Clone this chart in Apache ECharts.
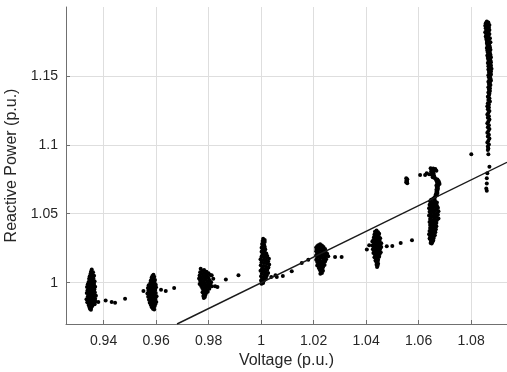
<!DOCTYPE html>
<html>
<head>
<meta charset="utf-8">
<script src="https://cdn.jsdelivr.net/npm/echarts@6/dist/echarts.min.js"></script>
<style>html,body{margin:0;padding:0;background:#fff}#c{width:507px;height:372px}</style>
</head>
<body>
<div id="c"></div>
<script>
// Axis ranges / names
const xName = 'Voltage (p.u.)';
const yName = 'Reactive Power (p.u.)';
const xRange = [0.9257, 1.0937];
const yRange = [0.97, 1.2];

// Fitted line endpoints [voltage, reactive power]
const fitLine = [[0.968, 0.97], [1.0937, 1.0873]];

// Measured clusters [voltage, reactive power]
const clusterA = [
[0.9355,1.0095],[0.9352,1.0080],[0.9360,1.0075],[0.9350,1.0062],[0.9358,1.0058],[0.9364,1.0050],[0.9347,1.0045],[0.9354,1.0040],[0.9361,1.0032],[0.9345,1.0028],[0.9352,1.0020],[0.9359,1.0015],[0.9366,1.0010],[0.9343,1.0005],[0.9350,1.0000],
[0.9357,0.9995],[0.9364,0.9990],[0.9340,0.9988],[0.9347,0.9982],[0.9354,0.9978],[0.9361,0.9975],[0.9368,0.9970],[0.9337,0.9968],[0.9344,0.9962],[0.9351,0.9958],[0.9358,0.9955],[0.9365,0.9950],[0.9339,0.9945],[0.9346,0.9940],[0.9353,0.9937],[0.9360,0.9932],[0.9367,0.9928],[0.9336,0.9925],[0.9343,0.9920],[0.9350,0.9915],[0.9357,0.9912],[0.9364,0.9908],[0.9371,0.9905],[0.9340,0.9900],[0.9347,0.9895],[0.9354,0.9892],[0.9361,0.9888],[0.9368,0.9884],[0.9335,0.9880],[0.9342,0.9876],[0.9349,0.9872],[0.9356,0.9868],[0.9363,0.9865],[0.9370,0.9862],[0.9338,0.9858],[0.9345,0.9854],[0.9352,0.9850],[0.9359,0.9846],[0.9366,0.9843],
[0.9343,0.9838],[0.9350,0.9833],[0.9357,0.9830],[0.9346,0.9824],[0.9353,0.9818],[0.9348,0.9810],[0.9352,0.9803],
[0.9380,0.9859],[0.9408,0.9871],[0.9431,0.9859],[0.9444,0.9854],[0.9482,0.9884]
];
const clusterB = [
[0.9590,1.0058],[0.9586,1.0048],[0.9593,1.0042],[0.9583,1.0035],[0.9590,1.0028],[0.9596,1.0020],[0.9580,1.0015],[0.9587,1.0008],[0.9594,1.0002],[0.9578,0.9998],
[0.9585,0.9994],[0.9592,0.9990],[0.9599,0.9985],[0.9572,0.9982],[0.9579,0.9978],[0.9586,0.9974],[0.9593,0.9970],[0.9600,0.9966],[0.9569,0.9962],[0.9576,0.9958],[0.9583,0.9954],[0.9590,0.9950],[0.9597,0.9946],[0.9571,0.9941],[0.9578,0.9937],[0.9585,0.9933],[0.9592,0.9929],[0.9599,0.9925],[0.9567,0.9921],[0.9574,0.9917],[0.9581,0.9913],[0.9588,0.9909],[0.9595,0.9905],[0.9602,0.9901],[0.9570,0.9897],[0.9577,0.9893],[0.9584,0.9889],[0.9591,0.9885],[0.9598,0.9881],[0.9573,0.9876],[0.9580,0.9872],[0.9587,0.9868],[0.9594,0.9864],[0.9601,0.9860],[0.9576,0.9855],[0.9583,0.9851],[0.9590,0.9847],[0.9597,0.9843],
[0.9580,0.9838],[0.9587,0.9832],[0.9594,0.9828],[0.9584,0.9822],[0.9591,0.9816],[0.9588,0.9810],[0.9593,0.9806],
[0.9552,0.9939],[0.9619,0.9949],[0.9637,0.9939],[0.9669,0.9961]
];
const clusterC = [
[0.9770,1.0100],[0.9783,1.0092],[0.9776,1.0085],[0.9792,1.0080],[0.9768,1.0075],[0.9785,1.0070],[0.9800,1.0068],[0.9775,1.0062],[0.9791,1.0058],[0.9806,1.0055],[0.9812,1.0053],[0.9766,1.0052],[0.9780,1.0048],[0.9795,1.0045],[0.9770,1.0040],[0.9786,1.0038],[0.9800,1.0034],[0.9818,1.0029],[0.9764,1.0030],[0.9776,1.0026],[0.9790,1.0022],[0.9804,1.0018],[0.9768,1.0014],[0.9782,1.0010],[0.9796,1.0006],[0.9810,1.0003],[0.9772,1.0000],[0.9786,0.9996],[0.9800,0.9992],[0.9766,0.9990],[0.9779,0.9986],[0.9793,0.9982],[0.9807,0.9979],[0.9772,0.9975],[0.9786,0.9971],[0.9799,0.9968],[0.9813,0.9973],[0.9825,0.9973],[0.9834,0.9968],[0.9776,0.9962],[0.9790,0.9958],[0.9803,0.9955],[0.9780,0.9948],[0.9793,0.9944],[0.9784,0.9938],[0.9797,0.9934],[0.9777,0.9930],[0.9790,0.9924],[0.9782,0.9918],[0.9788,0.9910],[0.9780,0.9904],[0.9786,0.9896],[0.9782,0.9888],
[0.9866,1.0022],[0.9914,1.0053]
];
const clusterD = [
[1.0008,1.0318],[1.0014,1.0310],[1.0006,1.0302],[1.0014,1.0295],[1.0008,1.0288],[1.0004,1.0280],[1.0012,1.0273],[1.0006,1.0266],[1.0014,1.0260],[1.0002,1.0254],[1.0010,1.0248],[1.0016,1.0242],[1.0006,1.0236],[1.0014,1.0230],[1.0002,1.0224],[1.0012,1.0218],[1.0020,1.0212],[1.0006,1.0206],[1.0016,1.0200],[1.0024,1.0194],[1.0002,1.0190],[1.0012,1.0185],[1.0022,1.0180],[1.0030,1.0174],[0.9998,1.0170],[1.0008,1.0165],[1.0018,1.0160],[1.0027,1.0154],[1.0002,1.0148],[1.0012,1.0143],[1.0022,1.0138],[1.0031,1.0132],[0.9999,1.0126],[1.0009,1.0121],[1.0019,1.0116],[1.0028,1.0110],[1.0004,1.0104],[1.0014,1.0098],[1.0024,1.0093],[0.9998,1.0087],[1.0008,1.0082],[1.0018,1.0076],[1.0027,1.0070],[1.0003,1.0064],[1.0013,1.0058],[1.0022,1.0052],[1.0000,1.0046],[1.0010,1.0040],[1.0019,1.0034],[1.0004,1.0028],[1.0014,1.0022],[1.0000,1.0016],[1.0009,1.0010],[1.0003,1.0004],[1.0008,0.9998],[1.0002,0.9992],
[1.0039,1.0041],[1.0055,1.0053],[1.0060,1.0041],[1.0083,1.0048],[1.0117,1.0082],[1.0155,1.0143],[1.0180,1.0167]
];
const clusterE = [
[1.0225,1.0278],[1.0218,1.0272],[1.0232,1.0270],[1.0214,1.0264],[1.0226,1.0262],[1.0238,1.0258],[1.0210,1.0255],[1.0222,1.0252],[1.0234,1.0248],[1.0244,1.0244],[1.0212,1.0242],[1.0224,1.0238],[1.0236,1.0234],[1.0246,1.0230],[1.0210,1.0228],[1.0220,1.0224],[1.0232,1.0220],[1.0242,1.0216],[1.0214,1.0212],[1.0226,1.0208],[1.0238,1.0204],[1.0248,1.0200],[1.0210,1.0198],[1.0220,1.0194],[1.0232,1.0190],[1.0244,1.0186],[1.0214,1.0182],[1.0226,1.0178],[1.0238,1.0174],[1.0248,1.0170],[1.0210,1.0166],[1.0222,1.0162],[1.0234,1.0158],[1.0244,1.0154],[1.0214,1.0150],[1.0226,1.0146],[1.0238,1.0142],[1.0218,1.0136],[1.0230,1.0132],[1.0242,1.0128],[1.0214,1.0124],[1.0226,1.0118],[1.0236,1.0112],[1.0220,1.0106],[1.0232,1.0100],[1.0224,1.0092],[1.0236,1.0086],[1.0228,1.0078],[1.0232,1.0070],[1.0226,1.0064],
[1.0252,1.0210],[1.0256,1.0191],[1.0282,1.0186],[1.0307,1.0186]
];
const clusterF = [
[1.0440,1.0378],[1.0434,1.0370],[1.0446,1.0366],[1.0438,1.0360],[1.0450,1.0355],[1.0432,1.0350],[1.0444,1.0346],[1.0436,1.0340],[1.0448,1.0336],[1.0430,1.0330],[1.0442,1.0326],[1.0454,1.0322],[1.0434,1.0318],[1.0446,1.0314],[1.0428,1.0310],[1.0440,1.0306],[1.0452,1.0302],[1.0424,1.0298],[1.0436,1.0294],[1.0448,1.0290],[1.0458,1.0286],[1.0430,1.0282],[1.0442,1.0278],[1.0454,1.0274],[1.0424,1.0270],[1.0436,1.0266],[1.0448,1.0262],[1.0458,1.0258],[1.0430,1.0254],[1.0442,1.0250],[1.0454,1.0246],[1.0426,1.0242],[1.0438,1.0238],[1.0450,1.0234],[1.0432,1.0228],[1.0444,1.0224],[1.0456,1.0220],[1.0428,1.0216],[1.0440,1.0212],[1.0452,1.0208],[1.0434,1.0202],[1.0446,1.0198],[1.0438,1.0192],[1.0450,1.0188],[1.0432,1.0184],[1.0444,1.0178],[1.0438,1.0172],[1.0446,1.0166],[1.0436,1.0160],[1.0444,1.0154],[1.0440,1.0146],[1.0446,1.0138],[1.0440,1.0130],[1.0444,1.0122],[1.0442,1.0114],
[1.0403,1.0240],[1.0412,1.0271],[1.0479,1.0264],[1.0500,1.0266],[1.0532,1.0288],[1.0575,1.0308]
];
const clusterG = [
[1.0656,1.0610],[1.0648,1.0602],[1.0662,1.0598],[1.0644,1.0590],[1.0658,1.0586],[1.0670,1.0582],[1.0650,1.0576],[1.0664,1.0572],[1.0642,1.0566],[1.0656,1.0562],[1.0670,1.0558],[1.0646,1.0552],[1.0660,1.0548],[1.0674,1.0544],[1.0640,1.0540],[1.0654,1.0536],[1.0668,1.0532],[1.0648,1.0526],[1.0662,1.0522],[1.0676,1.0518],[1.0642,1.0514],[1.0656,1.0510],[1.0670,1.0506],[1.0646,1.0500],[1.0660,1.0496],[1.0674,1.0492],[1.0640,1.0488],[1.0654,1.0484],[1.0668,1.0480],[1.0648,1.0474],[1.0662,1.0470],[1.0676,1.0466],[1.0644,1.0462],[1.0658,1.0458],[1.0670,1.0454],[1.0650,1.0448],[1.0664,1.0444],[1.0642,1.0440],[1.0656,1.0436],[1.0668,1.0432],[1.0648,1.0426],[1.0662,1.0422],[1.0644,1.0418],[1.0656,1.0414],[1.0668,1.0410],[1.0650,1.0404],[1.0662,1.0400],[1.0644,1.0396],[1.0656,1.0392],[1.0666,1.0388],[1.0648,1.0382],[1.0660,1.0378],[1.0642,1.0374],[1.0654,1.0370],[1.0664,1.0366],[1.0646,1.0360],[1.0658,1.0356],[1.0640,1.0352],[1.0652,1.0348],[1.0662,1.0344],[1.0644,1.0338],[1.0656,1.0334],[1.0648,1.0328],[1.0658,1.0324],[1.0642,1.0320],[1.0652,1.0316],[1.0646,1.0310],[1.0656,1.0306],[1.0648,1.0300],[1.0652,1.0294],[1.0646,1.0288],[1.0650,1.0284],
[1.0646,1.0830],[1.0656,1.0828],[1.0664,1.0825],[1.0650,1.0820],[1.0660,1.0816],[1.0668,1.0812],[1.0648,1.0808],[1.0656,1.0802],[1.0652,1.0795],[1.0658,1.0788],[1.0650,1.0782],[1.0656,1.0776],[1.0660,1.0770],[1.0654,1.0764],[1.0662,1.0758],[1.0666,1.0752],[1.0672,1.0748],[1.0668,1.0742],[1.0676,1.0738],[1.0670,1.0732],[1.0678,1.0728],[1.0672,1.0722],[1.0680,1.0716],[1.0674,1.0710],[1.0668,1.0704],[1.0674,1.0698],[1.0670,1.0690],[1.0674,1.0682],[1.0668,1.0674],[1.0672,1.0666],[1.0668,1.0658],[1.0672,1.0650],[1.0666,1.0642],[1.0670,1.0634],[1.0664,1.0626],[1.0662,1.0618],
[1.0606,1.0781],[1.0625,1.0781],[1.0631,1.0793],[1.0640,1.0786],
[1.0553,1.0757],[1.0557,1.0750],[1.0554,1.0742],[1.0556,1.0735],[1.0553,1.0728],[1.0557,1.0722]
];
const clusterH = [
[1.0860,1.1895],[1.0866,1.1888],[1.0856,1.1882],[1.0864,1.1876],[1.0870,1.1870],[1.0854,1.1864],[1.0862,1.1858],[1.0868,1.1852],[1.0856,1.1846],[1.0864,1.1840],[1.0870,1.1834],[1.0858,1.1828],[1.0866,1.1822],[1.0854,1.1816],[1.0862,1.1810],[1.0870,1.1804],[1.0858,1.1798],[1.0866,1.1792],[1.0856,1.1786],[1.0864,1.1780],[1.0872,1.1774],[1.0858,1.1768],[1.0866,1.1762],[1.0860,1.1756],[1.0868,1.1750],[1.0874,1.1744],[1.0860,1.1738],[1.0868,1.1732],[1.0862,1.1726],[1.0870,1.1720],[1.0864,1.1714],[1.0872,1.1708],[1.0860,1.1702],[1.0868,1.1696],[1.0874,1.1690],[1.0862,1.1684],[1.0870,1.1678],[1.0864,1.1672],[1.0872,1.1666],[1.0866,1.1660],
[1.0874,1.1654],[1.0862,1.1648],[1.0870,1.1642],[1.0876,1.1636],[1.0864,1.1630],[1.0872,1.1624],[1.0866,1.1618],[1.0874,1.1612],[1.0868,1.1606],[1.0876,1.1600],[1.0864,1.1594],[1.0872,1.1588],[1.0868,1.1582],[1.0876,1.1576],[1.0866,1.1570],[1.0874,1.1564],[1.0870,1.1558],[1.0878,1.1552],[1.0866,1.1546],[1.0872,1.1540],[1.0876,1.1534],[1.0868,1.1528],[1.0874,1.1522],[1.0870,1.1516],[1.0876,1.1510],[1.0866,1.1504],[1.0872,1.1498],[1.0868,1.1490],[1.0874,1.1482],[1.0870,1.1474],[1.0876,1.1466],[1.0866,1.1458],[1.0872,1.1450],[1.0868,1.1442],[1.0874,1.1434],[1.0870,1.1426],[1.0866,1.1418],[1.0872,1.1410],[1.0868,1.1400],[1.0872,1.1390],[1.0866,1.1380],[1.0870,1.1370],[1.0868,1.1360],
[1.0864,1.1348],[1.0870,1.1338],[1.0866,1.1326],[1.0872,1.1314],[1.0864,1.1302],[1.0868,1.1292],[1.0862,1.1280],[1.0868,1.1270],[1.0864,1.1258],[1.0870,1.1246],[1.0866,1.1232],[1.0862,1.1220],[1.0868,1.1208],[1.0864,1.1196],[1.0870,1.1184],[1.0866,1.1170],[1.0862,1.1156],[1.0868,1.1142],[1.0864,1.1128],[1.0870,1.1114],[1.0866,1.1100],[1.0862,1.1088],[1.0868,1.1074],[1.0864,1.1060],[1.0870,1.1046],[1.0866,1.1030],[1.0862,1.1016],[1.0868,1.1002],[1.0864,1.0988],[1.0866,1.0974],[1.0864,1.0962],
[1.0866,1.0932],[1.0870,1.0841],[1.0862,1.0793],[1.0860,1.0757],[1.0860,1.0720],[1.0858,1.0684],[1.0860,1.0666],
[1.0801,1.0932]
];

const allPoints = [].concat(clusterA, clusterB, clusterC, clusterD, clusterE, clusterF, clusterG, clusterH);

const chart = echarts.init(document.getElementById('c'), null, {renderer: 'canvas'});
const font = 'Liberation Sans, Arial, Helvetica, sans-serif';
chart.setOption({
  animation: false,
  backgroundColor: '#fff',
  grid: {left: 66, right: 0, top: 7, bottom: 48, containLabel: false, outerBoundsMode: 'none'},
  xAxis: {
    type: 'value', min: xRange[0], max: xRange[1], splitNumber: 8,
    name: xName, nameLocation: 'middle', nameGap: 28,
    nameTextStyle: {fontFamily: font, fontSize: 16, color: '#262626'},
    axisLine: {show: true, onZero: false, lineStyle: {color: '#707070', width: 1}},
    axisTick: {show: true, inside: true, length: 4, lineStyle: {color: '#707070'}},
    axisLabel: {fontFamily: font, fontSize: 14, color: '#262626', margin: 10, showMinLabel: false, showMaxLabel: false},
    splitLine: {show: true, showMinLine: false, showMaxLine: false, lineStyle: {color: '#dedede', width: 1}}
  },
  yAxis: {
    type: 'value', min: yRange[0], max: yRange[1], splitNumber: 5,
    name: yName, nameLocation: 'middle', nameGap: 40,
    nameTextStyle: {fontFamily: font, fontSize: 16, color: '#262626'},
    axisLine: {show: true, onZero: false, lineStyle: {color: '#707070', width: 1}},
    axisTick: {show: true, inside: true, length: 4, lineStyle: {color: '#707070'}},
    axisLabel: {fontFamily: font, fontSize: 14, color: '#262626', margin: 8, showMinLabel: false, showMaxLabel: false},
    splitLine: {show: true, showMinLine: false, showMaxLine: false, lineStyle: {color: '#dedede', width: 1}}
  },
  series: [
    {
      type: 'scatter', data: allPoints, symbol: 'circle', symbolSize: 4,
      itemStyle: {color: '#000', opacity: 1}, silent: true
    },
    {
      type: 'line', data: fitLine, symbol: 'none', silent: true,
      lineStyle: {color: '#1a1a1a', width: 1.4}
    }
  ]
});
</script>
</body>
</html>
